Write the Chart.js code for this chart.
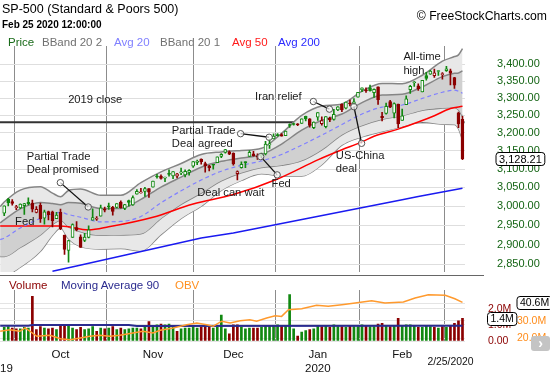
<!DOCTYPE html>
<html>
<head>
<meta charset="utf-8">
<title>SP-500</title>
<script src="https://cdn.jsdelivr.net/npm/chart.js@4.4.1/dist/chart.umd.min.js"></script>
<style>
  body { margin: 0; background: #fff; }
  #wrap { position: relative; width: 550px; height: 375px; overflow: hidden; font-family: 'Liberation Sans', Arial, sans-serif; }
  #wrap canvas { position: absolute; left: 0; }
  .t { position: absolute; white-space: nowrap; line-height: 1; }
</style>
</head>
<body>
<div id="wrap">
  <canvas id="priceChart" width="550" height="280" style="top:0"></canvas>
  <canvas id="volumeChart" width="550" height="100" style="top:275px"></canvas>

  <div class="t" style="left:2px;top:3px;font-size:12.5px;color:#000">SP-500 (Standard &amp; Poors 500)</div>
  <div class="t" style="left:2px;top:20px;font-size:10px;font-weight:bold;color:#000">Feb 25 2020 12:00:00</div>
  <div class="t" style="right:3px;top:10px;font-size:12.2px;color:#000">© FreeStockCharts.com</div>

  <div class="t" style="left:8px;top:37px;font-size:11.5px;color:#1a6b1a">Price</div>
  <div class="t" style="left:42px;top:37px;font-size:11.5px;color:#707070">BBand 20 2</div>
  <div class="t" style="left:114px;top:37px;font-size:11.5px;color:#8080ff">Avg 20</div>
  <div class="t" style="left:160px;top:37px;font-size:11.5px;color:#707070">BBand 20 1</div>
  <div class="t" style="left:232px;top:37px;font-size:11.5px;color:#ff1a1a">Avg 50</div>
  <div class="t" style="left:278px;top:37px;font-size:11.5px;color:#2a2aff">Avg 200</div>

  <div class="t" style="left:9px;top:280px;font-size:11.5px;color:#8b0000">Volume</div>
  <div class="t" style="left:61px;top:280px;font-size:11.5px;color:#2b2b8f">Moving Average 90</div>
  <div class="t" style="left:175px;top:280px;font-size:11.5px;color:#ff9020">OBV</div>

  <div style="position:absolute;left:0;top:275px;width:484px;height:1px;background:#666"></div>
  <div style="position:absolute;left:531px;top:336px;width:19px;height:15px;background:#c4c4c4;border-radius:3px;color:#fff;font-size:14px;font-weight:bold;line-height:14px;text-align:center">›</div>
</div>

<script>
Chart.defaults.font.family = "'Liberation Sans', Arial, sans-serif";

// trading days shown, Sep 11 2019 .. Feb 25 2020
const dates = [
  '9/11/2019','9/12/2019','9/13/2019','9/16/2019','9/17/2019','9/18/2019','9/19/2019','9/20/2019','9/23/2019','9/24/2019','9/25/2019','9/26/2019','9/27/2019','9/30/2019',
  '10/1/2019','10/2/2019','10/3/2019','10/4/2019','10/7/2019','10/8/2019','10/9/2019','10/10/2019','10/11/2019','10/14/2019','10/15/2019','10/16/2019','10/17/2019','10/18/2019','10/21/2019','10/22/2019','10/23/2019','10/24/2019','10/25/2019','10/28/2019','10/29/2019','10/30/2019','10/31/2019',
  '11/1/2019','11/4/2019','11/5/2019','11/6/2019','11/7/2019','11/8/2019','11/11/2019','11/12/2019','11/13/2019','11/14/2019','11/15/2019','11/18/2019','11/19/2019','11/20/2019','11/21/2019','11/22/2019','11/25/2019','11/26/2019','11/27/2019','11/29/2019',
  '12/2/2019','12/3/2019','12/4/2019','12/5/2019','12/6/2019','12/9/2019','12/10/2019','12/11/2019','12/12/2019','12/13/2019','12/16/2019','12/17/2019','12/18/2019','12/19/2019','12/20/2019','12/23/2019','12/24/2019','12/26/2019','12/27/2019','12/30/2019','12/31/2019',
  '1/2/2020','1/3/2020','1/6/2020','1/7/2020','1/8/2020','1/9/2020','1/10/2020','1/13/2020','1/14/2020','1/15/2020','1/16/2020','1/17/2020','1/21/2020','1/22/2020','1/23/2020','1/24/2020','1/27/2020','1/28/2020','1/29/2020','1/30/2020','1/31/2020',
  '2/3/2020','2/4/2020','2/5/2020','2/6/2020','2/7/2020','2/10/2020','2/11/2020','2/12/2020','2/13/2020','2/14/2020','2/18/2020','2/19/2020','2/20/2020','2/21/2020','2/24/2020','2/25/2020'
];

const open = [
  2981.4,3018.2,3012.2,2996.4,2995.7,3001.5,3010.4,3008.4,2983.5,3002.4,2968.4,2985.7,2985.5,2967.1,
  2983.7,2924.8,2885.4,2918.6,2944.2,2920.4,2911.1,2918.6,2963.1,2965.8,2973.6,2989.7,3000.8,2996.8,2996.5,3010.7,2994.0,3014.8,3003.3,3032.1,3035.4,3039.7,3046.9,
  3050.7,3079.0,3080.8,3075.1,3087.0,3081.3,3080.3,3089.3,3084.2,3090.8,3107.9,3117.9,3127.5,3114.7,3108.5,3111.4,3117.4,3134.9,3145.5,3147.2,
  3143.9,3087.4,3103.5,3119.2,3134.6,3141.9,3135.4,3135.8,3141.2,3166.7,3183.6,3195.4,3195.2,3192.3,3223.3,3226.1,3225.5,3227.2,3247.2,3240.1,3215.2,
  3244.7,3226.4,3217.6,3241.9,3238.6,3266.0,3281.8,3271.1,3285.4,3282.3,3303.0,3323.7,3321.0,3330.0,3315.8,3333.1,3247.2,3255.4,3289.5,3256.5,3282.3,
  3235.7,3280.6,3324.9,3344.9,3335.5,3318.3,3365.9,3370.5,3365.9,3378.1,3369.0,3380.4,3380.5,3360.5,3257.6,3238.9
];
const high = [
  3000.9,3020.7,3017.3,3002.2,3006.2,3007.8,3022.0,3016.4,2999.2,3008.0,2989.8,2987.3,2987.3,2983.9,
  2992.5,2924.8,2911.1,2953.7,2959.8,2925.5,2929.3,2948.5,2993.3,2972.8,3003.3,2997.5,3008.3,3000.0,3007.3,3014.6,3004.8,3016.1,3027.4,3044.1,3047.9,3050.1,3046.9,
  3067.0,3085.2,3084.0,3078.3,3097.8,3093.1,3088.3,3102.6,3098.1,3098.2,3120.5,3124.2,3127.6,3119.0,3110.1,3112.9,3133.8,3142.7,3154.3,3150.3,
  3144.3,3095.0,3119.4,3119.5,3150.6,3148.9,3142.1,3144.0,3176.3,3182.7,3197.7,3198.2,3198.5,3205.5,3225.7,3227.8,3226.4,3240.1,3247.9,3240.9,3231.7,
  3258.1,3246.2,3246.8,3244.9,3267.1,3275.6,3283.0,3288.1,3294.3,3298.7,3317.1,3329.9,3329.8,3337.8,3326.9,3333.2,3258.9,3285.8,3293.5,3285.9,3282.3,
  3268.4,3306.9,3337.6,3348.0,3341.4,3352.3,3375.6,3381.5,3385.1,3380.7,3375.0,3393.5,3385.1,3360.8,3259.8,3247.0
];
const low = [
  2975.3,3000.9,3002.9,2990.7,2993.7,2978.6,3003.2,2984.7,2982.2,2957.7,2952.9,2963.7,2945.5,2967.1,
  2938.7,2874.9,2855.9,2918.6,2935.7,2892.7,2907.4,2917.1,2963.1,2962.9,2973.6,2985.2,2991.8,2976.3,2995.4,2995.0,2991.2,3000.4,3001.9,3032.1,3034.8,3026.0,3023.2,
  3050.7,3074.9,3072.2,3065.9,3080.2,3073.6,3075.8,3084.7,3078.8,3083.3,3104.6,3112.1,3113.5,3091.4,3094.6,3099.3,3117.4,3131.0,3143.4,3139.3,
  3110.8,3070.3,3102.5,3103.8,3134.6,3135.5,3126.1,3133.2,3138.5,3156.5,3183.6,3191.0,3191.1,3192.3,3216.0,3222.3,3220.5,3227.2,3234.4,3216.6,3212.0,
  3235.5,3222.3,3214.6,3232.4,3236.7,3263.7,3260.9,3268.4,3277.2,3280.7,3302.8,3318.9,3316.6,3320.0,3301.9,3281.5,3234.5,3253.2,3271.9,3242.8,3214.7,
  3235.7,3280.6,3313.8,3334.4,3322.1,3317.8,3352.7,3369.7,3360.5,3366.2,3355.6,3378.8,3338.3,3328.5,3214.7,3125.5
];
const close = [
  3000.9,3009.6,3007.4,2998.0,3005.7,3006.7,3006.8,2992.1,2991.8,2966.6,2984.9,2977.6,2961.8,2976.7,
  2940.3,2887.6,2910.6,2952.0,2938.8,2893.1,2919.4,2938.1,2970.3,2966.2,2995.7,2989.7,2998.0,2986.2,3006.7,2996.0,3004.5,3010.3,3022.6,3039.4,3036.9,3046.8,3037.6,
  3066.9,3078.3,3074.6,3076.8,3085.2,3093.1,3087.0,3091.8,3094.0,3096.6,3120.5,3122.0,3120.2,3108.5,3103.5,3110.3,3133.6,3140.5,3153.6,3141.0,
  3113.9,3093.2,3112.8,3117.4,3145.9,3136.0,3132.5,3141.6,3168.6,3168.8,3191.5,3192.5,3191.1,3205.4,3221.2,3224.0,3223.4,3239.9,3240.0,3221.3,3230.8,
  3257.9,3234.9,3246.3,3237.2,3253.1,3274.7,3265.4,3288.1,3283.2,3289.3,3316.8,3329.6,3320.8,3321.8,3325.5,3295.5,3243.6,3276.2,3273.4,3283.7,3225.5,
  3248.9,3297.6,3334.7,3345.8,3327.7,3352.1,3357.8,3379.5,3373.9,3380.2,3370.3,3386.2,3373.2,3337.8,3225.9,3128.21
];

// Bollinger bands and 20 day average, read at these day positions
const bbIdx  = [-1, 0, 4, 9, 12, 14, 16, 19, 24, 29, 34, 39, 44, 49, 54, 59, 64, 69, 74, 79, 84, 89, 94, 99, 104, 109, 112, 113, 114];
const avg20  = [2913,2917,2943,2968,2980,2984,2978,2971,2959,2960,2973,3009,3041,3070,3094,3110,3122,3140,3166,3194,3224,3254,3274,3280,3299,3317,3323,3320,3314];
const bb2Up  = [2999,3011,3043,3052,3035,3025,3042,3046,3029,3029,3063,3092,3115,3140,3147,3151,3157,3199,3250,3277,3283,3320,3343,3342,3367,3409,3423,3428,3447];
const bb1Up  = [2956,2964,2993,3010,3007,3004,3010,3008,2994,2994,3018,3051,3078,3105,3121,3130,3140,3169,3208,3236,3254,3287,3309,3311,3333,3363,3373,3374,3380];
const bb1Lo  = [2870,2870,2893,2925,2952,2963,2946,2933,2924,2925,2928,2968,3005,3035,3068,3090,3104,3110,3123,3153,3195,3221,3239,3249,3265,3271,3273,3266,3247];
const bb2Lo  = [2828,2823,2843,2883,2924,2943,2915,2895,2889,2890,2884,2926,2968,3000,3042,3069,3087,3081,3081,3112,3166,3189,3204,3218,3231,3225,3224,3212,3181];

const ma50Idx  = [-1, 14, 21, 26, 37, 47, 57, 68, 78, 84, 89, 92, 98, 103, 107, 111, 114];
const avg50    = [2948,2948,2938,2946,2971,3006,3031,3073,3125,3153,3175,3191,3211,3231,3249,3270,3276];
const ma200Idx = [12, 18, 49, 57, 99, 103, 114];
const avg200   = [2833,2846,2917,2930,3017,3026,3048];

// volume (M), its 90 day average, on balance volume (M)
const volume = [
  0.85,0.9,0.8,0.75,0.75,0.85,0.8,2.77,0.7,0.9,0.8,0.75,0.8,0.7,
  0.95,1.0,0.95,0.8,0.7,0.85,0.7,0.75,0.9,0.6,0.8,0.75,0.8,0.9,0.7,0.8,0.7,0.75,0.8,0.8,0.75,0.85,1.2,
  0.95,1.0,1.05,1.0,1.05,0.85,0.6,0.75,0.8,0.8,0.9,0.8,0.85,0.9,0.85,0.8,0.85,1.6,0.75,0.45,
  1.0,1.0,0.85,0.75,0.8,0.8,0.8,0.85,0.95,0.95,0.95,1.0,0.95,0.95,2.87,0.75,0.3,0.55,0.65,0.7,0.75,
  0.95,0.9,0.95,0.85,1.0,0.9,0.9,0.85,0.95,0.9,0.9,1.0,0.95,0.9,0.9,1.05,1.1,0.95,0.9,0.95,1.4,
  0.95,1.0,1.0,0.95,0.85,0.85,0.95,0.9,0.85,0.8,0.9,0.85,0.95,1.1,1.25,1.4
];
const ma90Idx = [-1, 6, 7, 31, 33, 114];
const ma90    = [0.94, 0.94, 0.99, 0.99, 0.93, 0.95];
const obvIdx  = [-1, 1.4, 3.9, 5.2, 7, 8.1, 11.4, 14, 16.4, 18.9, 21.3, 23.8, 26.3, 28.8, 32, 34.5, 37, 38.8, 42, 45.4, 47.9, 50.4, 52, 54.1, 56.2, 58.7, 61.1, 62.8, 65.3, 67.4, 69, 70.7, 74, 77.7, 80.6, 84, 87.3, 91.4, 94.7, 99.3, 102.2, 105.5, 109.7, 112.1, 114];
const obvVal  = [23.9,24.8,23.9,25.8,22.9,21.0,21.6,19.6,19.0,20.0,21.0,21.6,21.0,21.6,22.9,23.9,22.9,24.5,25.8,27.7,28.7,27.7,26.8,29.7,28.7,30.0,30.6,29.7,31.6,32.9,32.5,36.4,36.9,38.9,38.3,39.2,40.2,41.6,40.2,40.8,43.1,45.0,44.7,42.7,40.6];

const close2019 = 3230.78;
const monthIdx = [14, 37, 57, 78, 99];
const monthLabels = ['Oct', 'Nov', 'Dec', ['Jan', '2020'], 'Feb'];
const priceTicks = [2850, 2900, 2950, 3000, 3050, 3100, 3150, 3200, 3250, 3300, 3350, 3400];
const volTicks = [0, 1, 2];
const obvTicks = [20, 30, 40];

// chart notes: text placed at (day, price)
const notes = [
  { text: ['2019 close'], at: [15.9, 3295] },
  { text: ['Partial Trade', 'Deal promised'], at: [5.6, 3134] },
  { text: ['Fed'], at: [2.7, 2960] },
  { text: ['Partial Trade', 'Deal agreed'], at: [41.7, 3207] },
  { text: ['Deal can wait'], at: [48.0, 3035] },
  { text: ['Fed'], at: [66.5, 3060] },
  { text: ['Iran relief'], at: [62.4, 3304] },
  { text: ['US-China', 'deal'], at: [82.5, 3136] },
  { text: ['All-time', 'high'], at: [99.3, 3421] }
];
const pointers = [
  [[13.96, 3063], [20.9, 2998]],
  [[58.8, 3198], [65.9, 3188]],
  [[63.8, 3134], [67.9, 3084]],
  [[76.9, 3290], [80.9, 3268]],
  [[87.0, 3275], [88.9, 3171]]
];

const xMin = -1.05, xMax = 114.5;
const upColor = '#118811', downColor = '#8b0000';

function pts(xs, ys) {
  return xs.map(function (x, i) { return { x: x, y: ys[i] }; });
}

// keep tick padding from pushing the plot area in
function noVerticalPadding(s) {
  s.paddingTop = 0;
  s.paddingBottom = 0;
}

var candleColor = close.map(function (c, i) {
  var prev = i > 0 ? close[i - 1] : open[i];
  return c >= prev ? upColor : downColor;
});
var bodyFill = close.map(function (c, i) {
  return c > open[i] ? '#ffffff' : candleColor[i];
});
var bodyData = close.map(function (c, i) { return { x: i, y: [open[i], c] }; });
var wickData = close.map(function (c, i) { return { x: i, y: [low[i], high[i]] }; });

function drawBox(ctx, left, cy, text, size) {
  ctx.save();
  ctx.font = size + "px 'Liberation Sans', Arial, sans-serif";
  var w = ctx.measureText(text).width + 6;
  var h = 13;
  ctx.beginPath();
  ctx.roundRect(left + 0.5, Math.round(cy - h / 2) + 0.5, w, h, 3);
  ctx.fillStyle = '#fff';
  ctx.fill();
  ctx.strokeStyle = '#000';
  ctx.lineWidth = 1;
  ctx.stroke();
  ctx.fillStyle = '#000';
  ctx.textBaseline = 'middle';
  ctx.textAlign = 'left';
  ctx.fillText(text, left + 3.5, Math.round(cy) + 1);
  ctx.restore();
}

var priceOverlay = {
  id: 'priceOverlay',
  beforeDatasetsDraw: function (chart) {
    var ctx = chart.ctx, a = chart.chartArea, y = chart.scales.y;
    var py = y.getPixelForValue(close2019);
    ctx.save();
    ctx.strokeStyle = '#333';
    ctx.lineWidth = 2;
    ctx.beginPath();
    ctx.moveTo(a.left, py);
    ctx.lineTo(a.right, py);
    ctx.stroke();
    ctx.restore();
  },
  afterDatasetsDraw: function (chart) {
    var ctx = chart.ctx, x = chart.scales.x, y = chart.scales.y;
    ctx.save();
    pointers.forEach(function (p) {
      var x1 = x.getPixelForValue(p[0][0]), y1 = y.getPixelForValue(p[0][1]);
      var x2 = x.getPixelForValue(p[1][0]), y2 = y.getPixelForValue(p[1][1]);
      ctx.strokeStyle = '#111';
      ctx.lineWidth = 1.3;
      ctx.beginPath();
      ctx.moveTo(x1, y1);
      ctx.lineTo(x2, y2);
      ctx.stroke();
      [[x1, y1], [x2, y2]].forEach(function (c) {
        ctx.beginPath();
        ctx.arc(c[0], c[1], 3.2, 0, Math.PI * 2);
        ctx.fillStyle = 'rgba(255,255,255,0.7)';
        ctx.fill();
        ctx.strokeStyle = '#555';
        ctx.lineWidth = 1;
        ctx.stroke();
      });
    });
    ctx.font = "11.2px 'Liberation Sans', Arial, sans-serif";
    ctx.fillStyle = '#1a1a1a';
    ctx.textAlign = 'left';
    ctx.textBaseline = 'middle';
    notes.forEach(function (n) {
      var px = x.getPixelForValue(n.at[0]);
      var py = y.getPixelForValue(n.at[1]);
      n.text.forEach(function (line, k) {
        ctx.fillText(line, px, py + k * 13.3);
      });
    });
    ctx.restore();
  },
  afterDraw: function (chart) {
    var y = chart.scales.y;
    var last = close.length - 1;
    var txt = close[last].toLocaleString('en-US', { minimumFractionDigits: 2, maximumFractionDigits: 2 });
    drawBox(chart.ctx, y.left + 31, y.getPixelForValue(close[last]), txt, 11);
  }
};

new Chart(document.getElementById('priceChart'), {
  type: 'bar',
  data: {
    datasets: [
      { type: 'bar', data: bodyData, barThickness: 3, backgroundColor: bodyFill, borderColor: candleColor,
        borderWidth: 1, borderSkipped: false, grouped: false, minBarLength: 1, order: 0 },
      { type: 'bar', data: wickData, barThickness: 1, backgroundColor: candleColor, grouped: false, order: 1 },
      { type: 'line', data: pts(bbIdx, avg20), borderColor: '#8080ff', borderWidth: 1.2, borderDash: [4, 3],
        pointRadius: 0, cubicInterpolationMode: 'monotone', fill: false, order: 2 },
      { type: 'line', data: pts(ma50Idx, avg50), borderColor: '#ff0000', borderWidth: 1.5,
        pointRadius: 0, cubicInterpolationMode: 'monotone', fill: false, order: 2 },
      { type: 'line', data: pts(ma200Idx, avg200), borderColor: '#1a1af0', borderWidth: 1.5,
        pointRadius: 0, fill: false, order: 2 },
      { type: 'line', data: pts(bbIdx, bb1Up), borderColor: '#858585', borderWidth: 1.5, backgroundColor: '#d0d0d0',
        pointRadius: 0, cubicInterpolationMode: 'monotone', fill: '+1', order: 3 },
      { type: 'line', data: pts(bbIdx, bb1Lo), borderColor: '#858585', borderWidth: 1.5,
        pointRadius: 0, cubicInterpolationMode: 'monotone', fill: false, order: 3 },
      { type: 'line', data: pts(bbIdx, bb2Up), borderColor: '#858585', borderWidth: 1.5, backgroundColor: '#e8e8e8',
        pointRadius: 0, cubicInterpolationMode: 'monotone', fill: '+1', order: 4 },
      { type: 'line', data: pts(bbIdx, bb2Lo), borderColor: '#858585', borderWidth: 1.5,
        pointRadius: 0, cubicInterpolationMode: 'monotone', fill: false, order: 4 }
    ]
  },
  options: {
    responsive: false,
    animation: false,
    devicePixelRatio: 1,
    events: [],
    layout: { padding: { left: 0, top: 46, right: 0, bottom: 8 } },
    plugins: { legend: { display: false }, tooltip: { enabled: false } },
    scales: {
      x: {
        type: 'linear', min: xMin, max: xMax, offset: false,
        afterBuildTicks: function (s) { s.ticks = monthIdx.map(function (v) { return { value: v }; }); },
        afterFit: function (s) { s.height = 0; },
        ticks: { display: false },
        grid: { color: '#8c8c8c', drawTicks: false },
        border: { display: false }
      },
      y: {
        type: 'logarithmic', position: 'right', min: 2831, max: 3455,
        afterBuildTicks: function (s) { s.ticks = priceTicks.map(function (v) { return { value: v }; }); },
        afterFit: function (s) { s.width = 85.5; noVerticalPadding(s); },
        ticks: {
          color: '#146414', font: { size: 11 }, padding: 32.5,
          callback: function (v) { return Number(v).toLocaleString('en-US', { minimumFractionDigits: 2, maximumFractionDigits: 2 }); }
        },
        grid: { color: '#dedede', drawTicks: false },
        border: { display: false }
      }
    }
  },
  plugins: [priceOverlay]
});

var volumeOverlay = {
  id: 'volumeOverlay',
  afterDraw: function (chart) {
    var ctx = chart.ctx, x = chart.scales.x, yv = chart.scales.yv, yo = chart.scales.yo;
    var last = volume.length - 1;
    drawBox(ctx, yv.left + 22.5, yv.getPixelForValue(volume[last]), volume[last].toFixed(1) + 'M', 10.5);
    drawBox(ctx, yo.left + 2, yo.getPixelForValue(obvVal[obvVal.length - 1]), obvVal[obvVal.length - 1].toFixed(1) + 'M', 10.5);
    ctx.save();
    ctx.fillStyle = '#111';
    ctx.textBaseline = 'middle';
    ctx.font = "10.4px 'Liberation Sans', Arial, sans-serif";
    ctx.textAlign = 'center';
    ctx.fillText(dates[last], x.getPixelForValue(last) - 12, 87);
    ctx.font = "11.5px 'Liberation Sans', Arial, sans-serif";
    ctx.textAlign = 'left';
    ctx.fillText('2019', -12.8, 94);
    ctx.restore();
  }
};

new Chart(document.getElementById('volumeChart'), {
  type: 'bar',
  data: {
    datasets: [
      { type: 'line', data: pts(obvIdx, obvVal), yAxisID: 'yo', borderColor: '#ff9a2e', borderWidth: 1.5,
        pointRadius: 0, fill: false, order: 0 },
      { type: 'line', data: pts(ma90Idx, ma90), yAxisID: 'yv', borderColor: '#2b2b8f', borderWidth: 2,
        pointRadius: 0, fill: false, order: 1 },
      { type: 'bar', data: volume.map(function (v, i) { return { x: i, y: v }; }), yAxisID: 'yv',
        backgroundColor: candleColor, barThickness: 2, grouped: false, order: 2 }
    ]
  },
  options: {
    responsive: false,
    animation: false,
    devicePixelRatio: 1,
    events: [],
    layout: { padding: { left: 0, top: 15, right: 0, bottom: 0 } },
    plugins: { legend: { display: false }, tooltip: { enabled: false } },
    scales: {
      x: {
        type: 'linear', min: xMin, max: xMax, offset: false,
        afterBuildTicks: function (s) { s.ticks = monthIdx.map(function (v) { return { value: v }; }); },
        afterFit: function (s) { s.height = 34; },
        ticks: {
          autoSkip: false, maxRotation: 0, padding: 7, color: '#111', font: { size: 11.5 },
          callback: function (v, i) { return monthLabels[i]; }
        },
        grid: { color: '#8c8c8c', drawTicks: false },
        border: { display: false }
      },
      yv: {
        type: 'linear', position: 'right', min: 0, max: 3.16, weight: 0,
        afterBuildTicks: function (s) { s.ticks = volTicks.map(function (v) { return { value: v }; }); },
        afterFit: function (s) { s.width = 50; noVerticalPadding(s); },
        ticks: {
          color: '#8b0000', font: { size: 10.5 }, padding: 23.5,
          callback: function (v) { return v === 0 ? '0.00' : Number(v).toFixed(1) + 'M'; }
        },
        grid: { color: '#e4e4e4', drawTicks: false },
        border: { display: false }
      },
      yo: {
        type: 'linear', position: 'right', min: 18.27, max: 47.75, weight: 1,
        afterBuildTicks: function (s) { s.ticks = obvTicks.map(function (v) { return { value: v }; }); },
        afterFit: function (s) { s.width = 35.5; noVerticalPadding(s); },
        ticks: {
          color: '#ff8c1a', font: { size: 10.5 }, padding: 2.5,
          callback: function (v) { return Number(v).toFixed(1) + 'M'; }
        },
        grid: { color: '#e4e4e4', drawTicks: false },
        border: { display: false }
      }
    }
  },
  plugins: [volumeOverlay]
});
</script>
</body>
</html>
